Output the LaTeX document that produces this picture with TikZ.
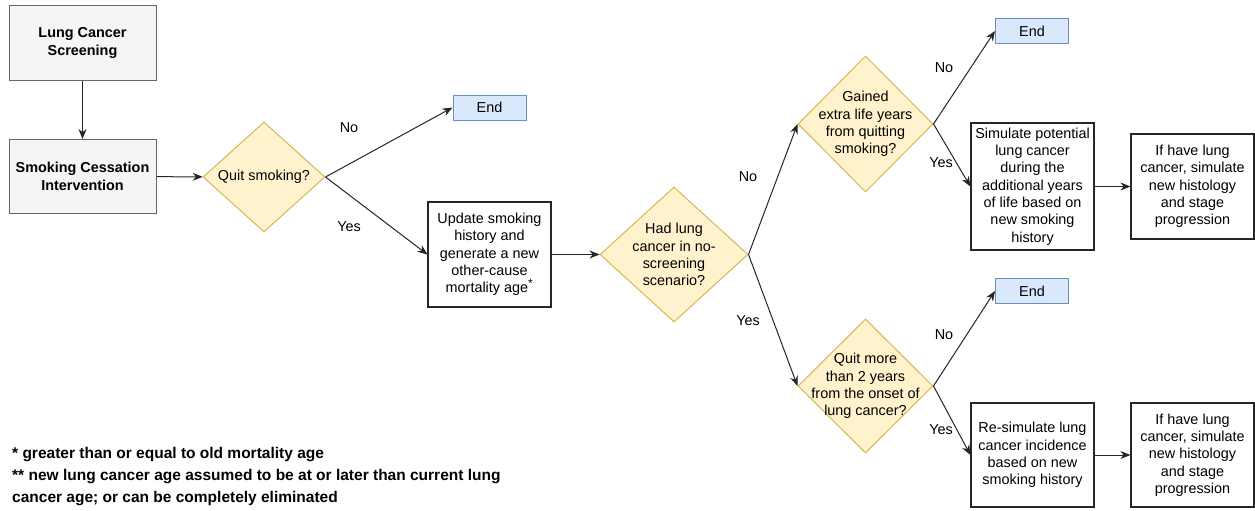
\documentclass[tikz,border=0pt]{standalone}
\usepackage{fontspec}
\setmainfont{Liberation Sans}
\usetikzlibrary{shapes.geometric,arrows.meta}
\definecolor{grayfill}{HTML}{F5F5F5}
\definecolor{grayline}{HTML}{666666}
\definecolor{qfill}{HTML}{FFF2CC}
\definecolor{qline}{HTML}{D6B656}
\definecolor{endfill}{HTML}{DAE8FC}
\definecolor{endline}{HTML}{6C8EBF}

\begin{document}
\begin{tikzpicture}[x=1pt,y=-1pt,
 every node/.style={font=\fontsize{14.4}{17.3}\selectfont, align=center, inner sep=2pt},
 startbox/.style={draw=grayline, fill=grayfill, line width=1pt, minimum width=147pt, minimum height=74pt, font=\fontsize{14.4}{17.3}\selectfont\bfseries},
 decision/.style={diamond, draw=qline, fill=qfill, line width=1pt, inner sep=0pt},
 procbox/.style={draw=black!85, fill=white, line width=1.2pt, minimum width=123pt},
 endbox/.style={draw=endline, fill=endfill, line width=1pt, minimum width=73pt, minimum height=25pt},
 arr/.style={-{Stealth[length=10pt,width=8pt]}, line width=1pt, black!85}
]
 \useasboundingbox (0,0) rectangle (1255,511);

 \node[startbox] (screen) at (82.5,43) {Lung Cancer\\Screening};
 \node[startbox] (cess) at (82.5,176.5) {Smoking Cessation\\Intervention};
 \node[decision, minimum width=122pt, minimum height=110pt, label={center:{Quit smoking?}}] (quit) at (264,177) {};
 \node[endbox] (end1) at (489.5,107.5) {End};
 \node[procbox, minimum height=105pt] (update) at (489.5,254.5) {Update smoking\\history and\\generate a new\\other-cause\\mortality age\textsuperscript{\large *}};
 \node[decision, minimum width=148pt, minimum height=135pt, label={center:{Had lung\\cancer in no-\\screening\\scenario?}}] (hadlc) at (674,254.5) {};

 \node[decision, minimum width=135pt, minimum height=136pt, label={center:{Gained\\extra life years\\from quitting\\smoking?}}] (gained) at (865.5,124) {};
 \node[endbox] (end2) at (1032,31) {End};
 \node[procbox, minimum height=127pt] (simlc) at (1032.5,186.5) {Simulate potential\\lung cancer\\during the\\additional years\\of life based on\\new smoking\\history};
 \node[procbox, minimum height=105pt] (hist1) at (1192.5,186.5) {If have lung\\cancer, simulate\\new histology\\and stage\\progression};

 \node[decision, minimum width=135pt, minimum height=134pt, label={center:{Quit more\\than 2 years\\from the onset of\\lung cancer?}}] (quitmore) at (865.5,386) {};
 \node[endbox] (end3) at (1032,291) {End};
 \node[procbox, minimum height=104pt] (resim) at (1032.5,455) {Re-simulate lung\\cancer incidence\\based on new\\smoking history};
 \node[procbox, minimum height=104pt] (hist2) at (1192.5,455) {If have lung\\cancer, simulate\\new histology\\and stage\\progression};

 \draw[arr] (screen) -- (cess);
 \draw[arr] (cess) -- (quit);
 \draw[arr] (quit.east) -- (end1.west);
 \draw[arr] (quit.east) -- (update.west);
 \draw[arr] (update) -- (hadlc);
 \draw[arr] (hadlc.east) -- (gained.west);
 \draw[arr] (hadlc.east) -- (quitmore.west);
 \draw[arr] (gained.east) -- (end2.west);
 \draw[arr] (gained.east) -- (simlc.west);
 \draw[arr] (simlc) -- (hist1);
 \draw[arr] (quitmore.east) -- (end3.west);
 \draw[arr] (quitmore.east) -- (resim.west);
 \draw[arr] (resim) -- (hist2);

 \node (no1) at (349,128) {No};
 \node (yes1) at (349,227) {Yes};
 \node (no2) at (748,177) {No};
 \node (yes2) at (748,321) {Yes};
 \node (no3) at (944,68) {No};
 \node (yes3) at (941,163) {Yes};
 \node (no4) at (944,335) {No};
 \node (yes4) at (941,430) {Yes};

 \node[anchor=west, align=left, font=\fontsize{15.5}{22}\selectfont\bfseries] (notes) at (10,477)
  {* greater than or equal to old mortality age\\
   ** new lung cancer age assumed to be at or later than current lung\\
   cancer age; or can be completely eliminated};
\end{tikzpicture}
\end{document}
